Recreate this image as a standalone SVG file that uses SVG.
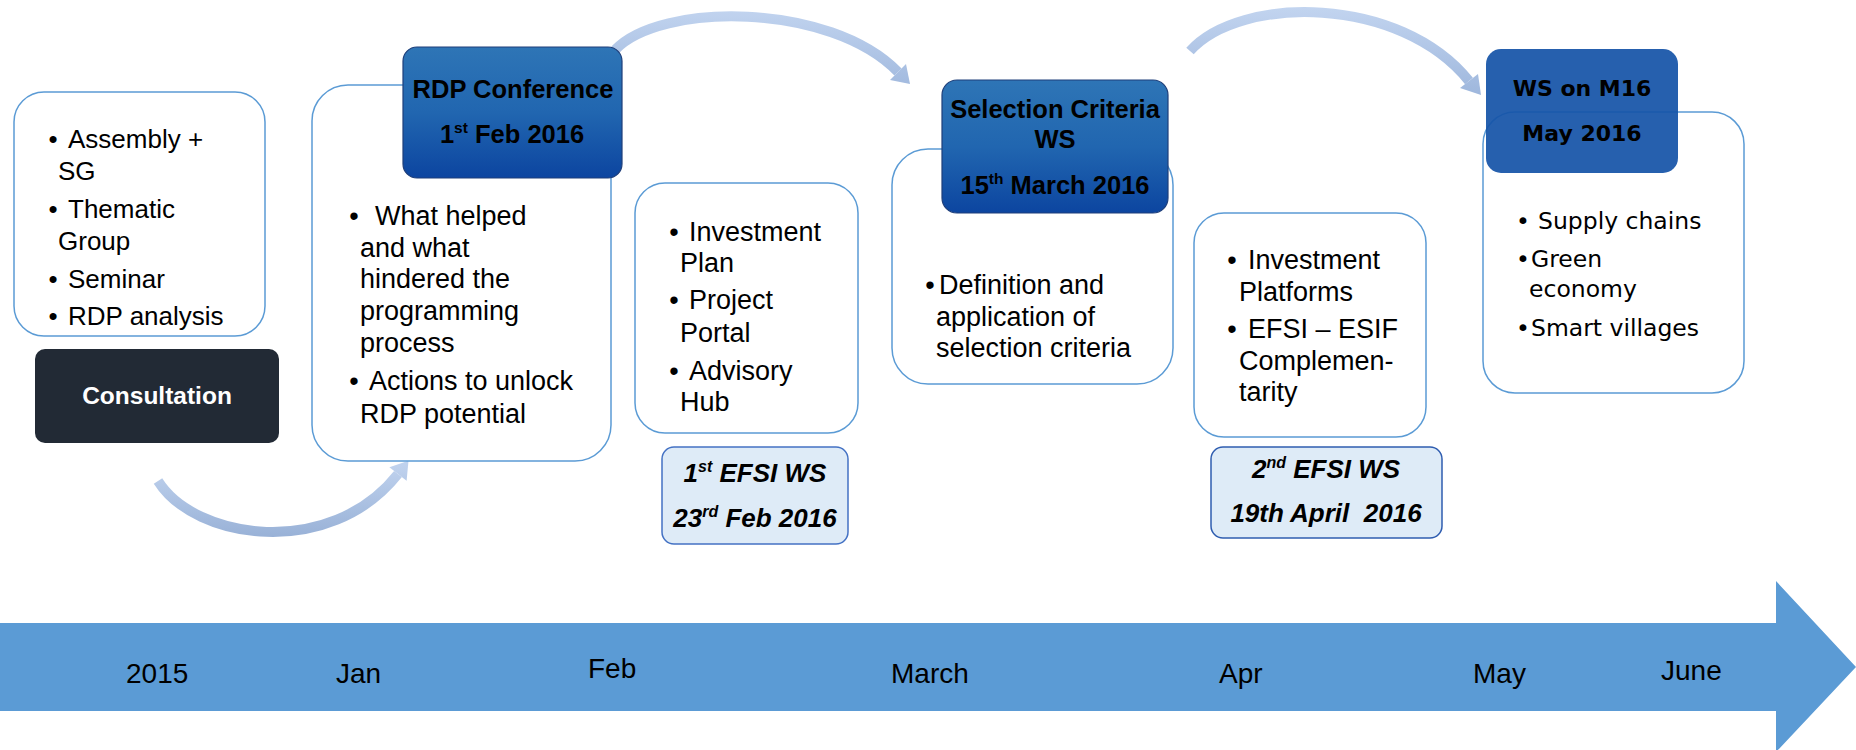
<svg xmlns="http://www.w3.org/2000/svg" width="1856" height="750" viewBox="0 0 1856 750">
<defs>
<style>
.box{fill:#ffffff;stroke:#5B9BD5;stroke-width:1.5}
.hdr{fill:url(#hg);stroke:#1F3F7A;stroke-width:1.2}
.efsi{fill:#DEEBF7;stroke:#4472C4;stroke-width:1.5}
.ln{font-family:"Liberation Sans",Arial,sans-serif;fill:#000}
.a{font-size:26px}
.b{font-size:27px}
.hd{font-family:"Liberation Sans",Arial,sans-serif;font-weight:bold;font-size:25.5px;fill:#000;text-anchor:middle}
.cons{font-family:"Liberation Sans",Arial,sans-serif;font-weight:bold;font-size:24.5px;fill:#fff;text-anchor:middle}
.ef{font-family:"Liberation Sans",Arial,sans-serif;font-weight:bold;font-style:italic;font-size:26px;fill:#000;text-anchor:middle}
.v{font-family:"DejaVu Sans",Verdana,sans-serif;font-size:23.5px;fill:#000}
.vh{font-family:"DejaVu Sans",Verdana,sans-serif;font-weight:bold;font-size:22px;fill:#000;text-anchor:middle}
.mon{font-family:"Liberation Sans",Arial,sans-serif;font-size:28px;fill:#000}
.bu{text-anchor:middle}
.carc{fill:none;stroke-width:10}
</style>
<linearGradient id="hg" x1="0" y1="0" x2="0" y2="1">
<stop offset="0" stop-color="#2E75B6"/>
<stop offset="0.5" stop-color="#2166B0"/>
<stop offset="1" stop-color="#0C45A0"/>
</linearGradient>
<linearGradient id="g1" gradientUnits="userSpaceOnUse" x1="0" y1="458" x2="0" y2="540">
<stop offset="0" stop-color="#C3D5F0"/>
<stop offset="1" stop-color="#97B0D6"/>
</linearGradient>
<linearGradient id="g2" gradientUnits="userSpaceOnUse" x1="0" y1="5" x2="0" y2="98">
<stop offset="0" stop-color="#C3D5F0"/>
<stop offset="1" stop-color="#9DB6DC"/>
</linearGradient>
</defs>

<g id="timeline">
<polygon points="0,623 1776,623 1776,581 1856,667 1776,752 1776,711 0,711" fill="#5B9BD5"/>
<text class="mon" x="126" y="683">2015</text>
<text class="mon" x="336" y="683">Jan</text>
<text class="mon" x="588" y="678">Feb</text>
<text class="mon" x="891" y="683">March</text>
<text class="mon" x="1219" y="683">Apr</text>
<text class="mon" x="1473" y="683">May</text>
<text class="mon" x="1661" y="680">June</text>
</g>

<g id="connectors">
<path class="carc" stroke="url(#g1)" d="M158,481 C195,540 330,560 398,474"/>
<polygon fill="url(#g1)" points="408.5,460.7 406.6,480.8 389.4,467.2"/>
<path class="carc" stroke="url(#g2)" d="M615,50 C660,2 830,2 898,72"/>
<polygon fill="url(#g2)" points="910,84 906,64 890,80"/>
<path class="carc" stroke="url(#g2)" d="M1190,51 C1240,-5 1400,-5 1469,81"/>
<polygon fill="url(#g2)" points="1481,95 1478,74 1460,88"/>
</g>

<g id="assembly">
<rect class="box" x="14" y="92" width="251" height="244" rx="30"/>
<text class="ln a bu" x="53" y="148">•</text><text class="ln a" x="68" y="148">Assembly +</text>
<text class="ln a" x="58" y="180">SG</text>
<text class="ln a bu" x="53" y="218">•</text><text class="ln a" x="68" y="218">Thematic</text>
<text class="ln a" x="58" y="250">Group</text>
<text class="ln a bu" x="53" y="288">•</text><text class="ln a" x="68" y="288">Seminar</text>
<text class="ln a bu" x="53" y="325">•</text><text class="ln a" x="68" y="325">RDP analysis</text>
</g>

<g id="consultation">
<rect x="35" y="349" width="244" height="94" rx="10" fill="#222A35"/>
<text class="cons" x="157" y="404">Consultation</text>
</g>

<g id="rdp-box">
<rect class="box" x="312" y="85" width="299" height="376" rx="36"/>
<text class="ln b bu" x="354" y="225">•</text><text class="ln b" x="375" y="225">What helped</text>
<text class="ln b" x="360" y="257">and what</text>
<text class="ln b" x="360" y="288">hindered the</text>
<text class="ln b" x="360" y="320">programming</text>
<text class="ln b" x="360" y="352">process</text>
<text class="ln b bu" x="354" y="390">•</text><text class="ln b" x="369" y="390">Actions to unlock</text>
<text class="ln b" x="360" y="423">RDP potential</text>
</g>

<g id="rdp-header">
<rect class="hdr" x="403" y="47" width="219" height="131" rx="14"/>
<text class="hd" x="513" y="98">RDP Conference</text>
<text class="hd" x="512" y="143">1<tspan font-size="15.5px" dy="-10">st</tspan><tspan dy="10"> Feb 2016</tspan></text>
</g>

<g id="investment-box">
<rect class="box" x="635" y="183" width="223" height="250" rx="30"/>
<text class="ln b bu" x="674" y="241">•</text><text class="ln b" x="689" y="241">Investment</text>
<text class="ln b" x="680" y="272">Plan</text>
<text class="ln b bu" x="674" y="309">•</text><text class="ln b" x="689" y="309">Project</text>
<text class="ln b" x="680" y="342">Portal</text>
<text class="ln b bu" x="674" y="380">•</text><text class="ln b" x="689" y="380">Advisory</text>
<text class="ln b" x="680" y="411">Hub</text>
</g>

<g id="efsi1">
<rect class="efsi" x="662" y="447" width="186" height="97" rx="12"/>
<text class="ef" x="755" y="482">1<tspan font-size="16px" dy="-10">st</tspan><tspan dy="10"> EFSI WS</tspan></text>
<text class="ef" x="755" y="527">23<tspan font-size="16px" dy="-10">rd</tspan><tspan dy="10"> Feb 2016</tspan></text>
</g>

<g id="selection-box">
<rect class="box" x="892" y="149" width="281" height="235" rx="36"/>
<text class="ln b bu" x="930" y="294">•</text><text class="ln b" x="939" y="294">Definition and</text>
<text class="ln b" x="936" y="326">application of</text>
<text class="ln b" x="936" y="357">selection criteria</text>
</g>

<g id="selection-header">
<rect class="hdr" x="942" y="80" width="226" height="133" rx="15"/>
<text class="hd" x="1055" y="118">Selection Criteria</text>
<text class="hd" x="1055" y="148">WS</text>
<text class="hd" x="1055" y="194">15<tspan font-size="15.5px" dy="-10">th</tspan><tspan dy="10"> March 2016</tspan></text>
</g>

<g id="platforms-box">
<rect class="box" x="1194" y="213" width="232" height="224" rx="30"/>
<text class="ln b bu" x="1232" y="269">•</text><text class="ln b" x="1248" y="269">Investment</text>
<text class="ln b" x="1239" y="301">Platforms</text>
<text class="ln b bu" x="1232" y="338">•</text><text class="ln b" x="1248" y="338">EFSI – ESIF</text>
<text class="ln b" x="1239" y="370">Complemen-</text>
<text class="ln b" x="1239" y="401">tarity</text>
</g>

<g id="efsi2">
<rect class="efsi" x="1211" y="447" width="231" height="91" rx="12" style="stroke:#2F5DB0"/>
<text class="ef" x="1326" y="478">2<tspan font-size="16px" dy="-10">nd</tspan><tspan dy="10"> EFSI WS</tspan></text>
<text class="ef" x="1326" y="522" style="white-space:pre">19th April  2016</text>
</g>

<g id="m16-box">
<rect class="box" x="1483" y="112" width="261" height="281" rx="32"/>
<text class="v bu" x="1523" y="229">•</text><text class="v" x="1538" y="229">Supply chains</text>
<text class="v bu" x="1523" y="267">•</text><text class="v" x="1531" y="267">Green</text>
<text class="v" x="1529" y="297">economy</text>
<text class="v bu" x="1523" y="336">•</text><text class="v" x="1531" y="336">Smart villages</text>
</g>

<g id="m16-header">
<rect x="1486" y="49" width="192" height="124" rx="15" fill="#1654A8" fill-opacity="0.93"/>
<text class="vh" x="1582" y="96">WS on M16</text>
<text class="vh" x="1582" y="141">May 2016</text>
</g>
</svg>
